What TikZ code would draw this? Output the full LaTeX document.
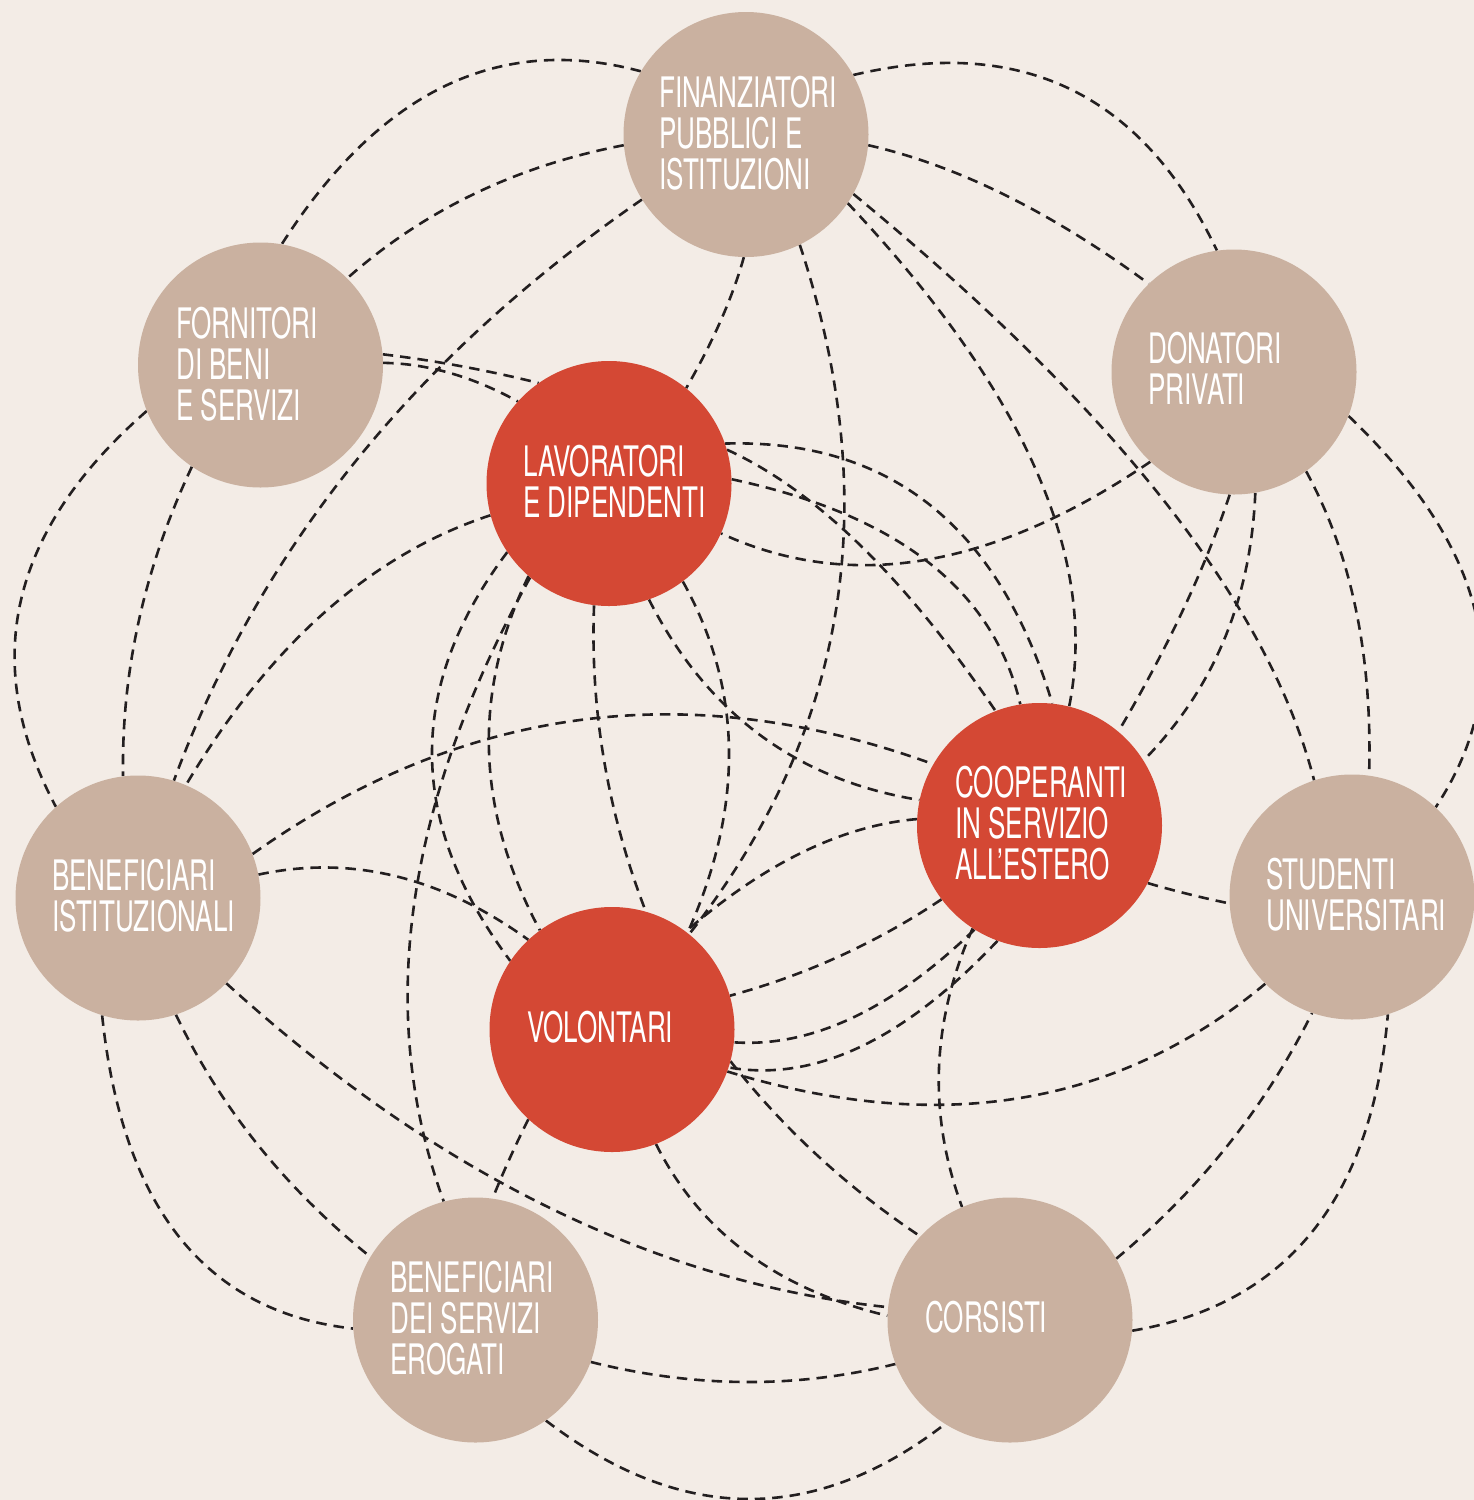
\documentclass[tikz,border=0pt]{standalone}
\usepackage{fontspec}
\setmainfont{TeX Gyre Heros}[FakeStretch=0.62]
\usetikzlibrary{calc}
\definecolor{bgc}{HTML}{F3ECE6}
\definecolor{tanc}{HTML}{CAB1A0}
\definecolor{redc}{HTML}{D44834}
\definecolor{inkc}{HTML}{231F20}
\pgfdeclarelayer{back}
\pgfsetlayers{back,main}
\newcommand\linkarc[3]{\draw[lnk] (#1) .. controls ($1.3333*(#2)-0.3333*(#3)$) and ($1.3333*(#2)-0.3333*(#1)$) .. (#3);}
\begin{document}
\begin{tikzpicture}[x=1pt,y=-1pt,
  disc/.style={circle,minimum size=245pt,inner sep=0pt,draw=none},
  tanb/.style={disc,fill=tanc},
  redb/.style={disc,fill=redc},
  lab/.style={anchor=base west,inner sep=0pt,text=white,font=\fontsize{42}{41}\selectfont},
  lnk/.style={draw=inkc,line width=2.6pt,dash pattern=on 10.5pt off 7pt}]
\useasboundingbox (0,0) rectangle (1474,1500);

% circles
\node[tanb] (F)  at (746,134.5) {};
\node[tanb] (Fo) at (260.5,365) {};
\node[tanb] (D)  at (1234,372) {};
\node[redb] (L)  at (609,483.5) {};
\node[redb] (C)  at (1039.5,825.5) {};
\node[tanb] (BI) at (138,898) {};
\node[tanb] (S)  at (1352,897) {};
\node[redb] (V)  at (612,1029.5) {};
\node[tanb] (BS) at (475.5,1320) {};
\node[tanb] (Co) at (1010,1320) {};

% labels
\node[lab] (Ft)  at (659,107)  {\vtop{\hbox{FINANZIATORI}\hbox{PUBBLICI E}\hbox{ISTITUZIONI}}};
\node[lab] (Fot) at (176,338)  {\vtop{\hbox{FORNITORI}\hbox{DI BENI}\hbox{E SERVIZI}}};
\node[lab] (Dt)  at (1148,363) {\vtop{\hbox{DONATORI}\hbox{PRIVATI}}};
\node[lab] (Lt)  at (523,476)  {\vtop{\hbox{LAVORATORI}\hbox{E DIPENDENTI}}};
\node[lab] (Ct)  at (955,797)  {\vtop{\hbox{COOPERANTI}\hbox{IN SERVIZIO}\hbox{ALL’ESTERO}}};
\node[lab] (BIt) at (52,890)   {\vtop{\hbox{BENEFICIARI}\hbox{ISTITUZIONALI}}};
\node[lab] (St)  at (1266,889) {\vtop{\hbox{STUDENTI}\hbox{UNIVERSITARI}}};
\node[lab] (Vt)  at (527,1042) {VOLONTARI};
\node[lab] (BSt) at (390,1292) {\vtop{\hbox{BENEFICIARI}\hbox{DEI SERVIZI}\hbox{EROGATI}}};
\node[lab] (Cot) at (925,1332) {CORSISTI};

\begin{pgfonlayer}{back}
\fill[bgc] (0,0) rectangle (1474,1500);
\linkarc{F.149}{445,86}{Fo.80}
\linkarc{F.185}{474,194}{Fo.45.5}
\linkarc{F.212}{355,462}{BI.73}
\linkarc{Fo.202}{21,600}{BI.132}
\linkarc{Fo.236}{139,620}{BI.97}
\linkarc{L.195}{325,612}{BI.67}
\linkarc{Fo.5}{460,366}{L.125}
\linkarc{Fo.1}{450,373}{L.138}
\linkarc{F.269}{721,320}{L.51}
\linkarc{F.296}{836,610}{V.51}
\linkarc{F.331}{1165,502}{S.108}
\linkarc{F.326.5}{1036,470}{C.76}
\linkarc{F.29}{1070,89}{D.98}
\linkarc{F.355}{1005,195}{D.134}
\linkarc{L.19}{930,505}{C.84}
\linkarc{L.16}{860,545}{C.111}
\linkarc{L.2}{928,562}{C.99}
\linkarc{D.227}{925,560}{L.336.5}
\linkarc{D.268}{1183,610}{C.50}
\linkarc{D.280}{1224,640}{C.32}
\linkarc{D.306}{1356,610}{S.82}
\linkarc{D.339}{1476,615}{S.47}
\linkarc{BI.21}{580,720}{C.150}
\linkarc{L.289}{760,735}{C.168}
\linkarc{C.177}{803,852}{V.53}
\linkarc{C.217}{840,956}{V.16}
\linkarc{C.238}{852,1018}{V.354}
\linkarc{C.250}{860,1047}{V.342}
\linkarc{V.340}{1020,1098}{S.225}
\linkarc{C.237.5}{939,1068}{Co.113}
\linkarc{V.345}{818,1156}{Co.137}
\linkarc{V.291}{747,1253}{Co.178.6}
\linkarc{BI.316}{550,1208}{Co.174}
\linkarc{BI.11}{395,876}{V.133}
\linkarc{L.230}{414,905}{BS.105}
\linkarc{L.214}{432,755}{V.146}
\linkarc{L.229.5}{489,752}{V.126}
\linkarc{L.263.5}{604,760}{V.74}
\linkarc{L.307.5}{729,750}{V.52.5}
\linkarc{V.227}{509,1160}{BS.82}
\linkarc{BI.253}{180,1238}{BS.184}
\linkarc{BI.288}{258,1145}{BS.149}
\linkarc{BS.340}{745,1382}{Co.201}
\linkarc{BS.305}{747,1499}{Co.238}
\linkarc{Co.355}{1312,1232}{S.287}
\linkarc{Co.30}{1228,1145}{S.251}
\linkarc{C.332}{1188,894}{S.183}
\end{pgfonlayer}
\end{tikzpicture}
\end{document}
